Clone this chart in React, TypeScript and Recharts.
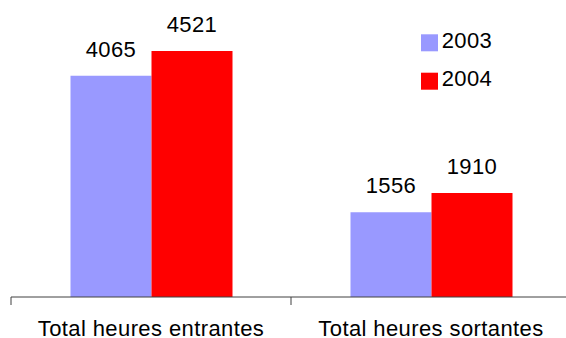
import React from 'react';
import { BarChart, Bar, XAxis, YAxis, Legend, LabelList } from 'recharts';

// Hours totals per category, one array per year
const categories = ['Total heures entrantes', 'Total heures sortantes'];
const hours2003 = [4065, 1556];
const hours2004 = [4521, 1910];
const seriesNames = ['2003', '2004'];
const seriesColors = ['#9999FF', '#FF0000'];
const yDomain: [number, number] = [0, 5000];

const data = categories.map((name, i) => ({
  name,
  y2003: hours2003[i],
  y2004: hours2004[i],
}));

const FONT = '"Liberation Sans", Arial, sans-serif';
const AXIS_COLOR = '#404040';

// Category tick: label centred under the band, tick marks on the band edges
const CategoryTick = (props: any) => {
  const { x, y, payload, index, visibleTicksCount } = props;
  const half = payload && typeof payload.offset === 'number' ? payload.offset : 140;
  const isLast = index === (visibleTicksCount ?? categories.length) - 1;
  return (
    <g>
      <line x1={x - half} x2={x - half} y1={y} y2={y + 8} stroke={AXIS_COLOR} strokeWidth={1} />
      {isLast && (
        <line x1={x + half} x2={x + half} y1={y} y2={y + 8} stroke={AXIS_COLOR} strokeWidth={1} />
      )}
      <text
        x={x}
        y={y + 39}
        textAnchor="middle"
        fontFamily={FONT}
        fontSize={22}
        letterSpacing={0.4}
        fill="#000"
      >
        {payload.value}
      </text>
    </g>
  );
};

const renderLegend = (props: any) => {
  const { payload } = props;
  return (
    <svg width={90} height={80} style={{ display: 'block', overflow: 'visible' }}>
      {(payload || []).map((p: any, i: number) => (
        <g key={p.value}>
          <rect x={0} y={3.3 + i * 38.4} width={17} height={17} fill={p.color} />
          <text
            x={20.7}
            y={17.3 + i * 37.8}
            fontFamily={FONT}
            fontSize={22}
            letterSpacing={0.4}
            fill="#000"
          >
            {p.value}
          </text>
        </g>
      ))}
    </svg>
  );
};

export default function App() {
  return (
    <div
      style={{
        position: 'absolute',
        left: 0,
        top: 0,
        width: 566,
        height: 338,
        overflow: 'hidden',
        background: '#fff',
      }}
    >
      <BarChart
        width={580}
        height={338}
        data={data}
        margin={{ top: 25, right: 9, left: 11, bottom: 0 }}
        barCategoryGap={59.5}
        barGap={0}
      >
        <XAxis
          dataKey="name"
          height={41}
          tickSize={0}
          tickMargin={0}
          tickLine={false}
          axisLine={{ stroke: AXIS_COLOR, strokeWidth: 1 }}
          tick={CategoryTick}
          interval={0}
        />
        <YAxis hide domain={yDomain} />
        <Legend
          layout="horizontal"
          align="center"
          verticalAlign="middle"
          content={renderLegend}
          wrapperStyle={{ left: 421, top: 31, width: 90, height: 80 }}
        />
        <Bar dataKey="y2003" name={seriesNames[0]} fill={seriesColors[0]} isAnimationActive={false}>
          <LabelList
            dataKey="y2003"
            position="top"
            offset={19}
            fontFamily={FONT}
            fontSize={22}
            letterSpacing={0.4}
            fill="#000"
          />
        </Bar>
        <Bar dataKey="y2004" name={seriesNames[1]} fill={seriesColors[1]} isAnimationActive={false}>
          <LabelList
            dataKey="y2004"
            position="top"
            offset={19}
            fontFamily={FONT}
            fontSize={22}
            letterSpacing={0.4}
            fill="#000"
          />
        </Bar>
      </BarChart>
    </div>
  );
}
